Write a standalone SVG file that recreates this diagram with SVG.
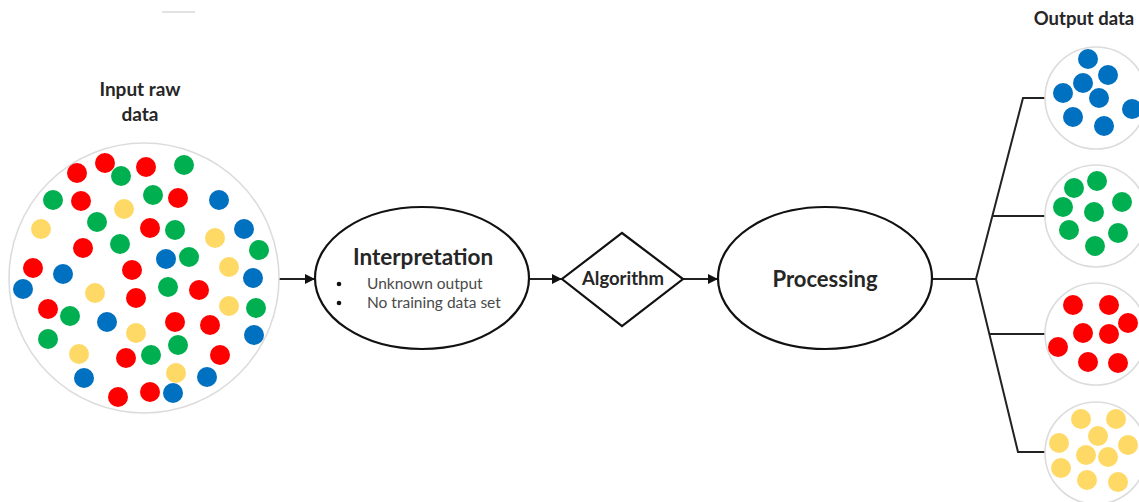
<svg xmlns="http://www.w3.org/2000/svg" width="1139" height="502" viewBox="0 0 1139 502">
<style>
.bg{fill:#fff}
.ring{fill:#fff;stroke:#dcdcdc;stroke-width:1.6}
.shape{fill:#fff;stroke:#111;stroke-width:2.2}
.ln{fill:none;stroke:#222;stroke-width:2}
.r{fill:#ff0000}
.g{fill:#00b050}
.b{fill:#0070c0}
.y{fill:#ffd966}
.lbl{font-family:Lato,"Open Sans","DejaVu Sans",sans-serif;font-weight:bold;fill:#262626;text-anchor:middle}
.sub{font-family:Lato,"Open Sans","DejaVu Sans",sans-serif;fill:#4a4a4a;font-size:15.5px}
</style>
<defs>
<marker id="ah" viewBox="0 0 10 10" refX="10" refY="5" markerWidth="10" markerHeight="10" markerUnits="userSpaceOnUse" orient="auto">
<path d="M0,0 L10,5 L0,10 z" fill="#111"/>
</marker>
</defs>
<rect class="bg" x="0" y="0" width="1139" height="502"/>
<rect x="162" y="11" width="33" height="2" fill="#e2e2e2"/>

<g id="connectors">
<line class="ln" x1="278" y1="279" x2="315" y2="279" marker-end="url(#ah)"/>
<line class="ln" x1="530" y1="279" x2="562" y2="279" marker-end="url(#ah)"/>
<line class="ln" x1="683" y1="279" x2="718" y2="279" marker-end="url(#ah)"/>
<polyline class="ln" points="932,279 976,279"/>
<polyline class="ln" points="1045,98 1023,98 976,279 1018,452 1045,452"/>
<line class="ln" x1="993" y1="216" x2="1045" y2="216"/>
<line class="ln" x1="989" y1="334" x2="1045" y2="334"/>
</g>

<g id="input-data">
<text class="lbl" x="140" y="96" font-size="19">Input raw</text>
<text class="lbl" x="140" y="121" font-size="19">data</text>
<circle class="ring" cx="144" cy="278" r="135"/>
<circle class="r" cx="77" cy="173" r="10"/>
<circle class="r" cx="105" cy="163" r="10"/>
<circle class="g" cx="121" cy="176" r="10"/>
<circle class="r" cx="146" cy="167" r="10"/>
<circle class="g" cx="184" cy="165" r="10"/>
<circle class="g" cx="53" cy="200" r="10"/>
<circle class="r" cx="81" cy="201" r="10"/>
<circle class="g" cx="153" cy="195" r="10"/>
<circle class="r" cx="178" cy="198" r="10"/>
<circle class="b" cx="219" cy="200" r="10"/>
<circle class="y" cx="124" cy="209" r="10"/>
<circle class="g" cx="97" cy="222" r="10"/>
<circle class="y" cx="41" cy="229" r="10"/>
<circle class="r" cx="150" cy="228" r="10"/>
<circle class="g" cx="175" cy="230" r="10"/>
<circle class="y" cx="215" cy="238" r="10"/>
<circle class="b" cx="244" cy="229" r="10"/>
<circle class="r" cx="83" cy="248" r="10"/>
<circle class="g" cx="120" cy="244" r="10"/>
<circle class="g" cx="259" cy="250" r="10"/>
<circle class="b" cx="166" cy="259" r="10"/>
<circle class="g" cx="189" cy="257" r="10"/>
<circle class="y" cx="229" cy="267" r="10"/>
<circle class="r" cx="33" cy="268" r="10"/>
<circle class="b" cx="63" cy="274" r="10"/>
<circle class="r" cx="132" cy="270" r="10"/>
<circle class="b" cx="253" cy="278" r="10"/>
<circle class="b" cx="23" cy="289" r="10"/>
<circle class="y" cx="95" cy="293" r="10"/>
<circle class="r" cx="136" cy="298" r="10"/>
<circle class="g" cx="168" cy="287" r="10"/>
<circle class="r" cx="199" cy="290" r="10"/>
<circle class="y" cx="229" cy="306" r="10"/>
<circle class="g" cx="256" cy="308" r="10"/>
<circle class="r" cx="48" cy="309" r="10"/>
<circle class="g" cx="70" cy="316" r="10"/>
<circle class="b" cx="107" cy="322" r="10"/>
<circle class="r" cx="175" cy="322" r="10"/>
<circle class="r" cx="210" cy="325" r="10"/>
<circle class="b" cx="254" cy="335" r="10"/>
<circle class="g" cx="48" cy="339" r="10"/>
<circle class="y" cx="136" cy="333" r="10"/>
<circle class="g" cx="178" cy="345" r="10"/>
<circle class="y" cx="79" cy="354" r="10"/>
<circle class="r" cx="126" cy="358" r="10"/>
<circle class="g" cx="151" cy="355" r="10"/>
<circle class="r" cx="220" cy="355" r="10"/>
<circle class="b" cx="84" cy="378" r="10"/>
<circle class="y" cx="176" cy="373" r="10"/>
<circle class="b" cx="207" cy="377" r="10"/>
<circle class="r" cx="118" cy="397" r="10"/>
<circle class="r" cx="150" cy="392" r="10"/>
<circle class="b" cx="173" cy="393" r="10"/>
</g>

<g id="interpretation">
<ellipse class="shape" cx="422" cy="278" rx="107" ry="71"/>
<text class="lbl" x="423" y="265" font-size="22.5">Interpretation</text>
<circle cx="339" cy="284" r="2.3" fill="#111"/>
<circle cx="339" cy="303" r="2.3" fill="#111"/>
<text class="sub" x="367" y="289">Unknown output</text>
<text class="sub" x="367" y="308">No training data set</text>
</g>

<g id="algorithm">
<polygon class="shape" points="622,233 683,279 622,326 562,279"/>
<text class="lbl" x="623" y="285" font-size="18.5">Algorithm</text>
</g>

<g id="processing">
<ellipse class="shape" cx="825" cy="278" rx="107" ry="71"/>
<text class="lbl" x="825" y="287" font-size="22">Processing</text>
</g>

<g id="output-data">
<text class="lbl" x="1084" y="25" font-size="18.5">Output data</text>
</g>

<g id="output-blue">
<circle class="ring" cx="1096" cy="98" r="51"/>
<circle class="b" cx="1088" cy="59" r="10"/>
<circle class="b" cx="1108" cy="75" r="10"/>
<circle class="b" cx="1083" cy="83" r="10"/>
<circle class="b" cx="1063" cy="93" r="10"/>
<circle class="b" cx="1099" cy="98" r="10"/>
<circle class="b" cx="1132" cy="109" r="10"/>
<circle class="b" cx="1073" cy="117" r="10"/>
<circle class="b" cx="1104" cy="126" r="10"/>
</g>

<g id="output-green">
<circle class="ring" cx="1096" cy="216" r="51"/>
<circle class="g" cx="1074" cy="188" r="10"/>
<circle class="g" cx="1097" cy="181" r="10"/>
<circle class="g" cx="1122" cy="202" r="10"/>
<circle class="g" cx="1063" cy="207" r="10"/>
<circle class="g" cx="1094" cy="212" r="10"/>
<circle class="g" cx="1069" cy="230" r="10"/>
<circle class="g" cx="1118" cy="233" r="10"/>
<circle class="g" cx="1095" cy="246" r="10"/>
</g>

<g id="output-red">
<circle class="ring" cx="1096" cy="334" r="51"/>
<circle class="r" cx="1073" cy="305" r="10"/>
<circle class="r" cx="1109" cy="305" r="10"/>
<circle class="r" cx="1128" cy="323" r="10"/>
<circle class="r" cx="1083" cy="333" r="10"/>
<circle class="r" cx="1109" cy="334" r="10"/>
<circle class="r" cx="1058" cy="347" r="10"/>
<circle class="r" cx="1088" cy="362" r="10"/>
<circle class="r" cx="1118" cy="363" r="10"/>
</g>

<g id="output-yellow">
<circle class="ring" cx="1096" cy="453" r="51"/>
<circle class="y" cx="1081" cy="419" r="10"/>
<circle class="y" cx="1116" cy="419" r="10"/>
<circle class="y" cx="1098" cy="436" r="10"/>
<circle class="y" cx="1059" cy="443" r="10"/>
<circle class="y" cx="1128" cy="445" r="10"/>
<circle class="y" cx="1086" cy="455" r="10"/>
<circle class="y" cx="1108" cy="457" r="10"/>
<circle class="y" cx="1061" cy="468" r="10"/>
<circle class="y" cx="1087" cy="480" r="10"/>
<circle class="y" cx="1118" cy="482" r="10"/>
</g>
</svg>
